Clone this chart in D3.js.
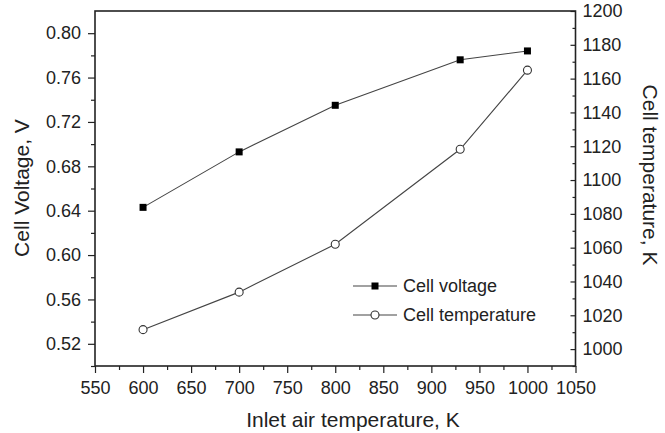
<!DOCTYPE html>
<html>
<head>
<meta charset="utf-8">
<script src="https://cdn.jsdelivr.net/npm/d3@7"></script>
<style>
  html, body { margin: 0; padding: 0; background: #fff; }
  svg { display: block; font-family: "Liberation Sans", Arial, Helvetica, sans-serif; }
</style>
</head>
<body>
<svg id="chart" width="665" height="433"></svg>
<script>
// ---- data ----
const inletTemps = [600, 700, 800, 930, 1000];
const cellVoltage = [0.643, 0.693, 0.735, 0.776, 0.784];
const cellTemperature = [1011.5, 1033.7, 1062, 1118.2, 1165];
const xTicks = [550, 600, 650, 700, 750, 800, 850, 900, 950, 1000, 1050];
const yLeftTicks = [0.52, 0.56, 0.60, 0.64, 0.68, 0.72, 0.76, 0.80];
const yRightTicks = [1000, 1020, 1040, 1060, 1080, 1100, 1120, 1140, 1160, 1180, 1200];
const seriesNames = ["Cell voltage", "Cell temperature"];

// ---- layout ----
const svg = d3.select("#chart");
const L = 95, R = 575.5, T = 11, B = 366;
const axisColor = "#222";
const lineColor = "#444";

const x = d3.scaleLinear().domain([550, 1050]).range([L, R]);
const yL = d3.scaleLinear().domain([0.50, 0.82]).range([B, T]);
const yR = d3.scaleLinear().domain([990, 1200]).range([B, T]);

const tickFont = 18;

// minor ticks
const xMinor = d3.range(575, 1050, 50);
const yLMinor = d3.range(0.50, 0.81, 0.04).map(v => +v.toFixed(2));
const yRMinor = d3.range(990, 1200, 20);

// bottom axis
const gx = svg.append("g").attr("transform", `translate(0,${B})`);
gx.call(d3.axisBottom(x).tickValues(xTicks).tickSize(7).tickPadding(8).tickFormat(d3.format("d")));
gx.append("g").call(d3.axisBottom(x).tickValues(xMinor).tickSize(4).tickFormat(""));

// left axis
const gy = svg.append("g").attr("transform", `translate(${L},0)`);
gy.call(d3.axisLeft(yL).tickValues(yLeftTicks).tickSize(7).tickPadding(7).tickFormat(d3.format(".2f")));
gy.append("g").call(d3.axisLeft(yL).tickValues(yLMinor).tickSize(4).tickFormat(""));

// right axis (ticks inward)
const gr = svg.append("g").attr("transform", `translate(${R},0)`);
gr.call(d3.axisRight(yR).tickValues(yRightTicks).tickSize(-5).tickPadding(7).tickFormat(d3.format("d")));
gr.append("g").call(d3.axisRight(yR).tickValues(yRMinor).tickSize(-3).tickFormat(""));

svg.selectAll(".domain").remove();
svg.selectAll(".tick line").attr("stroke", axisColor).attr("stroke-width", 1.2);
svg.selectAll(".tick text").attr("font-size", tickFont).attr("fill", "#222")
   .attr("font-family", "Liberation Sans, Arial, sans-serif");

// frame
svg.append("rect").attr("x", L).attr("y", T).attr("width", R - L).attr("height", B - T)
  .attr("fill", "none").attr("stroke", axisColor).attr("stroke-width", 1.6);

// lines
const vData = inletTemps.map((t, i) => ({ t, v: cellVoltage[i] }));
const tData = inletTemps.map((t, i) => ({ t, v: cellTemperature[i] }));

svg.append("path").datum(vData)
  .attr("d", d3.line().x(d => x(d.t)).y(d => yL(d.v)))
  .attr("fill", "none").attr("stroke", lineColor).attr("stroke-width", 1.1);
svg.append("path").datum(tData)
  .attr("d", d3.line().x(d => x(d.t)).y(d => yR(d.v)))
  .attr("fill", "none").attr("stroke", lineColor).attr("stroke-width", 1.1);

const sq = 7;
svg.selectAll(".sq").data(vData).enter().append("rect")
  .attr("x", d => x(d.t) - sq / 2).attr("y", d => yL(d.v) - sq / 2)
  .attr("width", sq).attr("height", sq).attr("fill", "#000");
svg.selectAll(".ci").data(tData).enter().append("circle")
  .attr("cx", d => x(d.t)).attr("cy", d => yR(d.v)).attr("r", 4)
  .attr("fill", "#fff").attr("stroke", "#333").attr("stroke-width", 1.1);

// legend
const lg = svg.append("g");
const lx0 = 353, lx1 = 397, ly = [286, 315];
seriesNames.forEach((name, i) => {
  lg.append("line").attr("x1", lx0).attr("x2", lx1).attr("y1", ly[i]).attr("y2", ly[i])
    .attr("stroke", lineColor).attr("stroke-width", 1.1);
  if (i === 0) {
    lg.append("rect").attr("x", (lx0 + lx1) / 2 - sq / 2).attr("y", ly[i] - sq / 2)
      .attr("width", sq).attr("height", sq).attr("fill", "#000");
  } else {
    lg.append("circle").attr("cx", (lx0 + lx1) / 2).attr("cy", ly[i]).attr("r", 4)
      .attr("fill", "#fff").attr("stroke", "#333").attr("stroke-width", 1.1);
  }
  lg.append("text").attr("x", 403).attr("y", ly[i]).attr("dy", "0.35em")
    .attr("font-size", 18).attr("fill", "#222").text(name);
});

// axis titles
svg.append("text").attr("x", 353).attr("y", 427).attr("text-anchor", "middle")
  .attr("font-size", 21).attr("fill", "#222").text("Inlet air temperature, K");
svg.append("text").attr("transform", `translate(29,188) rotate(-90)`)
  .attr("text-anchor", "middle").attr("font-size", 21).attr("fill", "#222").text("Cell Voltage, V");
svg.append("text").attr("transform", `translate(643,175) rotate(90)`)
  .attr("text-anchor", "middle").attr("font-size", 21).attr("fill", "#222").text("Cell temperature, K");
</script>
</body>
</html>
